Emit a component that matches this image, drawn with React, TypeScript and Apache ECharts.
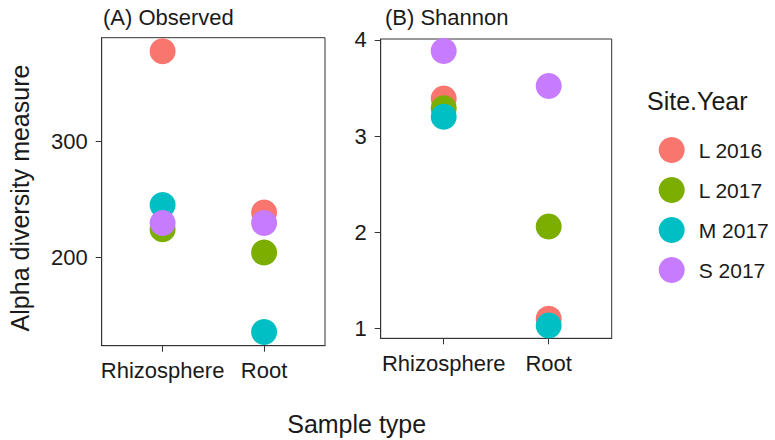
import React, { useEffect, useRef } from "react";
import * as echarts from "echarts";

const categories = ["Rhizosphere", "Root"];
const groups = ["L 2016", "L 2017", "M 2017", "S 2017"];
const groupColors = ["#F8766D", "#7CAE00", "#00BFC4", "#C77CFF"];

// Observed richness (Rhizosphere, Root)
const observedL2016 = [378, 239];
const observedL2017 = [224.5, 204.5];
const observedM2017 = [245.5, 136];
const observedS2017 = [230, 230];

// Shannon index (Rhizosphere, Root)
const shannonL2016 = [3.39, 1.1];
const shannonL2017 = [3.29, 2.06];
const shannonM2017 = [3.2, 1.03];
const shannonS2017 = [3.885, 3.52];

const observedTicks = [200, 300];
const shannonTicks = [1, 2, 3, 4];
const observedRange = [124.1, 389.7];
const shannonRange = [0.896, 4.01];

const observedSets = [observedL2016, observedL2017, observedM2017, observedS2017];
const shannonSets = [shannonL2016, shannonL2017, shannonM2017, shannonS2017];

const FONT = "'Liberation Sans', Arial, sans-serif";
const TEXT = "#1a1a1a";
const LINE = "#333333";

function xAxisFor(gridIndex: number) {
  return {
    type: "value",
    gridIndex,
    min: 0.4,
    max: 2.6,
    splitLine: { show: false },
    axisLine: { show: true, onZero: false, lineStyle: { color: LINE, width: 1 } },
    axisTick: {
      show: true,
      length: 6,
      customValues: categories.map((_, i) => i + 1),
      lineStyle: { color: LINE, width: 1 },
    },
    axisLabel: {
      show: true,
      customValues: categories.map((_, i) => i + 1),
      formatter: (v: number) => categories[Math.round(v) - 1] ?? "",
      fontSize: 22,
      fontFamily: FONT,
      color: TEXT,
      margin: 14,
    },
  };
}

function yAxisFor(gridIndex: number, range: number[], ticks: number[]) {
  return {
    type: "value",
    gridIndex,
    min: range[0],
    max: range[1],
    splitLine: { show: false },
    axisLine: { show: true, onZero: false, lineStyle: { color: LINE, width: 1 } },
    axisTick: { show: true, length: 6, customValues: ticks, lineStyle: { color: LINE, width: 1 } },
    axisLabel: {
      show: true,
      customValues: ticks,
      fontSize: 22,
      fontFamily: FONT,
      color: TEXT,
      margin: 14,
    },
  };
}

export default function App() {
  const ref = useRef<HTMLDivElement>(null);
  useEffect(() => {
    if (!ref.current) return;
    const chart = echarts.init(ref.current, null, { renderer: "svg" });
    const series: any[] = [];
    groups.forEach((g, i) => {
      series.push({
        type: "scatter",
        name: g,
        xAxisIndex: 0,
        yAxisIndex: 0,
        symbol: "circle",
        symbolSize: 26,
        itemStyle: { color: groupColors[i], opacity: 1 },
        data: categories.map((_, j) => [j + 1, observedSets[i][j]]),
      });
    });
    groups.forEach((g, i) => {
      series.push({
        type: "scatter",
        name: g,
        xAxisIndex: 1,
        yAxisIndex: 1,
        symbol: "circle",
        symbolSize: 26,
        itemStyle: { color: groupColors[i], opacity: 1 },
        data: categories.map((_, j) => [j + 1, shannonSets[i][j]]),
      });
    });
    chart.setOption({
      animation: false,
      backgroundColor: "#ffffff",
      grid: [
        {
          left: 101.7,
          top: 37.7,
          width: 223.3,
          height: 308,
          show: true,
          borderColor: LINE,
          borderWidth: 1,
          backgroundColor: "transparent",
        },
        {
          left: 380.7,
          top: 39,
          width: 231,
          height: 299.3,
          show: true,
          borderColor: LINE,
          borderWidth: 1,
          backgroundColor: "transparent",
        },
      ],
      xAxis: [xAxisFor(0), xAxisFor(1)],
      yAxis: [yAxisFor(0, observedRange, observedTicks), yAxisFor(1, shannonRange, shannonTicks)],
      legend: {
        data: groups,
        orient: "vertical",
        left: 653.7,
        top: 132,
        icon: "circle",
        itemWidth: 26,
        itemHeight: 26,
        itemGap: 14,
        textStyle: {
          fontSize: 21,
          fontFamily: FONT,
          color: TEXT,
          lineHeight: 26,
          padding: [0, 0, 0, 9],
        },
      },
      graphic: [
        {
          type: "text",
          x: 103,
          y: 17,
          style: { text: "(A) Observed", fontSize: 22, fontFamily: FONT, fill: TEXT, align: "left", verticalAlign: "middle" },
        },
        {
          type: "text",
          x: 385,
          y: 17,
          style: { text: "(B) Shannon", fontSize: 22, fontFamily: FONT, fill: TEXT, align: "left", verticalAlign: "middle" },
        },
        {
          type: "text",
          x: 356.7,
          y: 424,
          style: { text: "Sample type", fontSize: 25, fontFamily: FONT, fill: TEXT, align: "center", verticalAlign: "middle" },
        },
        {
          type: "text",
          x: 20,
          y: 198,
          rotation: Math.PI / 2,
          style: { text: "Alpha diversity measure", fontSize: 25, fontFamily: FONT, fill: TEXT, align: "center", verticalAlign: "middle" },
        },
        {
          type: "text",
          x: 647,
          y: 101,
          style: { text: "Site.Year", fontSize: 25, fontFamily: FONT, fill: TEXT, align: "left", verticalAlign: "middle" },
        },
      ],
      series,
    });
    return () => chart.dispose();
  }, []);
  return (
    <div
      ref={ref}
      style={{ position: "fixed", left: 0, top: 0, width: 775, height: 440 }}
    />
  );
}
